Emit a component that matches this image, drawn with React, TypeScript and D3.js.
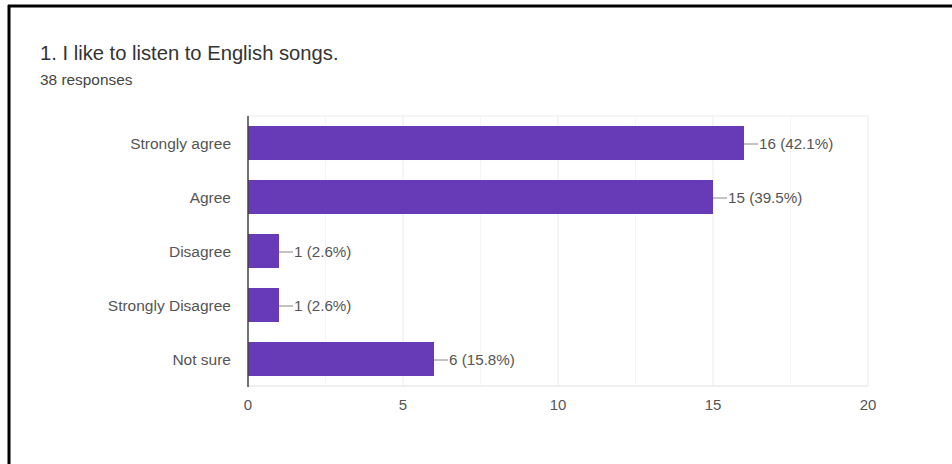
import React from "react";
import * as d3 from "d3";

const categories = ["Strongly agree", "Agree", "Disagree", "Strongly Disagree", "Not sure"];
const counts = [16, 15, 1, 1, 6];
const percents = ["42.1%", "39.5%", "2.6%", "2.6%", "15.8%"];
const xTicks = [0, 5, 10, 15, 20];
const minorTicks = [2.5, 7.5, 12.5, 17.5];
const title = "1. I like to listen to English songs.";
const subtitle = "38 responses";

const W = 952;
const H = 464;
const font = "'Liberation Sans', Arial, Helvetica, sans-serif";

export default function App() {
  const x = d3.scaleLinear().domain([0, 20]).range([248, 868]);
  const y = d3
    .scaleBand<string>()
    .domain(categories)
    .range([116, 386])
    .paddingInner(0.37)
    .paddingOuter(0.185);
  const top = 116;
  const bottom = 386;
  return (
    <svg
      width={W}
      height={H}
      style={{ position: "fixed", left: 0, top: 0, background: "#fff" }}
    >
      <rect x={0} y={0} width={W} height={H} fill="#fff" />
      {/* frame */}
      <line x1={8} y1={6} x2={W} y2={6} stroke="#000" strokeWidth={3} />
      <line x1={9} y1={5} x2={9} y2={H} stroke="#000" strokeWidth={3} />

      <text x={40} y={60} fontFamily={font} fontSize={20.2} fill="#333">
        {title}
      </text>
      <text x={40} y={85} fontFamily={font} fontSize={15.4} fill="#444">
        {subtitle}
      </text>

      {/* grid */}
      {minorTicks.map((t) => (
        <line key={"m" + t} x1={x(t)} x2={x(t)} y1={top} y2={bottom} stroke="#f5f5f5" strokeWidth={1} />
      ))}
      {xTicks.slice(1).map((t) => (
        <line key={"g" + t} x1={x(t)} x2={x(t)} y1={top} y2={bottom} stroke="#ebebeb" strokeWidth={1} />
      ))}
      <line x1={x(0)} x2={x(20)} y1={top} y2={top} stroke="#ebebeb" strokeWidth={1} />
      <line x1={x(0)} x2={x(20)} y1={bottom} y2={bottom} stroke="#ebebeb" strokeWidth={1.5} />

      {/* bars */}
      {categories.map((c, i) => {
        const y0 = y(c)!;
        const bh = y.bandwidth();
        const xe = x(counts[i]);
        const cy = y0 + bh / 2 + 1;
        return (
          <g key={c}>
            <rect x={x(0)} y={y0} width={xe - x(0)} height={bh} fill="#673ab7" />
            <line x1={xe} x2={xe + 14} y1={cy} y2={cy} stroke="#888" strokeWidth={1} />
            <text x={xe + 15} y={cy} dy="0.35em" fontFamily={font} fontSize={15.2} fill="#555">
              {counts[i]} ({percents[i]})
            </text>
            <text x={231} y={cy} dy="0.35em" textAnchor="end" fontFamily={font} fontSize={15.5} fill="#555">
              {c}
            </text>
          </g>
        );
      })}

      <line x1={x(0)} x2={x(0)} y1={top} y2={bottom + 1} stroke="#444" strokeWidth={1.5} />

      {xTicks.map((t) => (
        <text key={"t" + t} x={x(t)} y={410} textAnchor="middle" fontFamily={font} fontSize={15} fill="#555">
          {t}
        </text>
      ))}
    </svg>
  );
}
